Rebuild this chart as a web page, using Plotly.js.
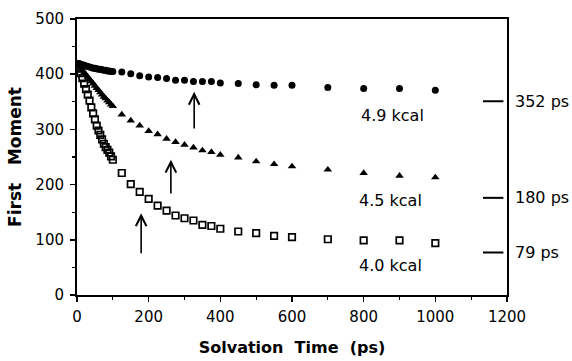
<!DOCTYPE html>
<html>
<head>
<meta charset="utf-8">
<script src="https://cdn.plot.ly/plotly-3.0.1.min.js"></script>
<style>
  html, body { margin: 0; padding: 0; background: #fff; }
  #chart { width: 572px; height: 361px; }
</style>
</head>
<body>
<div id="chart"></div>
<script>
// Solvation time (ps)
const time = [0, 5, 10, 15, 20, 25, 30, 35, 40, 45, 50, 55, 60, 65, 70, 75, 80, 85, 90, 95, 100,
              125, 150, 175, 200, 225, 250, 275, 300, 325, 350, 375, 400,
              450, 500, 550, 600, 700, 800, 900, 1000];

// First moment, 4.9 kcal (filled circles)
const moment49 = [420, 419, 418, 417, 416, 415, 414, 413, 412, 411, 411, 410, 409, 409, 408, 407, 407, 406, 406, 405, 405,
                  404, 401, 397, 395, 394, 392, 389, 389, 387, 387, 387, 384,
                  383, 381, 380, 380, 376, 374, 374, 371];

// First moment, 4.5 kcal (filled triangles)
const moment45 = [418, 415, 411, 407, 403, 399, 395, 391, 387, 383, 379, 375, 371, 367, 363, 359, 356, 352, 349, 345, 342,
                  327, 316, 307, 297, 291, 283, 277, 272, 267, 262, 259, 254,
                  249, 242, 237, 233, 227, 221, 216, 213];

// First moment, 4.0 kcal (open squares)
const moment40 = [418, 410, 402, 393, 383, 373, 363, 352, 340, 329, 318, 307, 298, 290, 282, 274, 268, 263, 258, 251, 245,
                  221, 201, 187, 174, 162, 153, 144, 139, 135, 127, 125, 120,
                  115, 112, 107, 105, 101, 99, 99, 94];

// Curve labels
const curveLabels = ["4.9 kcal", "4.5 kcal", "4.0 kcal"];
const curveLabelX = [880, 876, 876];
const curveLabelY = [325, 172, 54];

// Arrows (time, tip value, tail value)
const arrowT = [327, 262, 179];
const arrowTip = [368, 245, 148];
const arrowTail = [299, 181, 73];

// Right-side relaxation time markers
const rateLabels = ["352 ps", "180 ps", "79 ps"];
const rateY = [351, 176, 77];

// Axis ticks
const xTicks = [0, 200, 400, 600, 800, 1000, 1200];
const yTicks = [0, 100, 200, 300, 400, 500];

const FONT = "DejaVu Sans, Arial, sans-serif";

const traces = [
  { x: time, y: moment49, mode: "markers", type: "scatter", name: "4.9 kcal",
    marker: { symbol: "circle", size: 7, color: "#000" } },
  { x: time, y: moment45, mode: "markers", type: "scatter", name: "4.5 kcal",
    marker: { symbol: "triangle-up", size: 7.5, color: "#000" } },
  { x: time, y: moment40, mode: "markers", type: "scatter", name: "4.0 kcal",
    marker: { symbol: "square-open", size: 6.5, color: "#000", line: { width: 1.7, color: "#000" } } }
];

const annotations = [];
for (let i = 0; i < curveLabels.length; i++) {
  annotations.push({ x: curveLabelX[i], y: curveLabelY[i], xref: "x", yref: "y",
    text: curveLabels[i], showarrow: false, font: { family: FONT, size: 16, color: "#000" } });
}
for (let i = 0; i < arrowT.length; i++) {
  annotations.push({ x: arrowT[i], y: arrowTip[i], ax: arrowT[i], ay: arrowTail[i],
    xref: "x", yref: "y", axref: "x", ayref: "y", text: "", showarrow: true,
    arrowhead: 5, arrowsize: 1.3, arrowwidth: 1.6, arrowcolor: "#000", standoff: 0, startstandoff: 0 });
}
for (let i = 0; i < rateLabels.length; i++) {
  annotations.push({ x: 1, xref: "paper", xanchor: "left", xshift: 6, y: rateY[i], yref: "y",
    text: rateLabels[i], showarrow: false, font: { family: FONT, size: 16, color: "#000" } });
}

const shapes = rateY.map(v => ({ type: "line", xref: "x", yref: "y",
  x0: 1133, x1: 1190, y0: v, y1: v, line: { color: "#000", width: 2 } }));

const layout = {
  width: 572, height: 361,
  margin: { l: 77, r: 65, t: 19, b: 66 },
  paper_bgcolor: "#fff", plot_bgcolor: "#fff",
  showlegend: false,
  xaxis: {
    range: [0, 1200], tickvals: xTicks, ticktext: xTicks.map(String),
    ticks: "outside", ticklen: 5, tickwidth: 1.5, tickcolor: "#000",
    minor: { dtick: 100, ticks: "outside", ticklen: 3, tickwidth: 1.2, tickcolor: "#000" },
    showline: true, linewidth: 2, linecolor: "#000", mirror: true,
    showgrid: false, zeroline: false, ticklabelstandoff: 2,
    tickfont: { family: FONT, size: 15, color: "#000" },
    title: { text: "Solvation&nbsp;&nbsp;Time&nbsp;&nbsp;(ps)", standoff: 17,
             font: { family: FONT, size: 16, weight: "bold", color: "#000" } }
  },
  yaxis: {
    range: [0, 500], tickvals: yTicks, ticktext: yTicks.map(String),
    ticks: "outside", ticklen: 5, tickwidth: 1.5, tickcolor: "#000",
    minor: { dtick: 50, ticks: "outside", ticklen: 3, tickwidth: 1.2, tickcolor: "#000" },
    showline: true, linewidth: 2, linecolor: "#000", mirror: true,
    showgrid: false, zeroline: false, ticklabelstandoff: 3,
    tickfont: { family: FONT, size: 15, color: "#000" },
    title: { text: "First&nbsp;&nbsp;&nbsp;Moment", standoff: 9,
             font: { family: FONT, size: 17, weight: "bold", color: "#000" } }
  },
  annotations: annotations,
  shapes: shapes
};

Plotly.newPlot("chart", traces, layout, { staticPlot: true, displayModeBar: false });
</script>
</body>
</html>
